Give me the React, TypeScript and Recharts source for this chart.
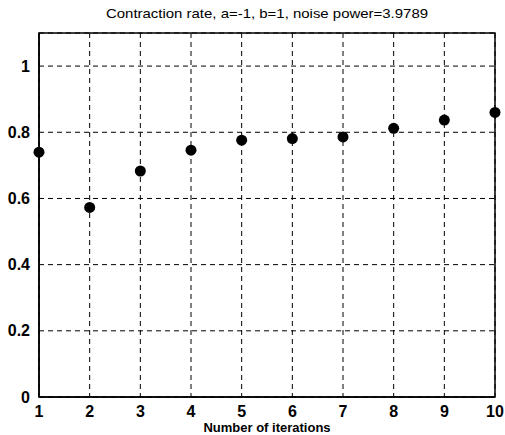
import React from "react";
import {
  ScatterChart,
  Scatter,
  XAxis,
  YAxis,
  CartesianGrid,
  ReferenceArea,
} from "recharts";

// Contraction rate per iteration
const iterations = [1, 2, 3, 4, 5, 6, 7, 8, 9, 10];
const contractionRate = [0.74, 0.573, 0.683, 0.746, 0.776, 0.781, 0.786, 0.812, 0.837, 0.86];
const xTicks = [1, 2, 3, 4, 5, 6, 7, 8, 9, 10];
const yTicks = [0, 0.2, 0.4, 0.6, 0.8, 1];

const data = iterations.map((x, i) => ({ x, y: contractionRate[i] }));

const FONT = "'Liberation Sans', Arial, Helvetica, sans-serif";

const Dot = (props: any) => {
  const { cx, cy } = props;
  return <circle cx={cx} cy={cy} r={5.5} fill="#000" />;
};

export default function App() {
  return (
    <div
      style={{
        position: "absolute",
        left: 0,
        top: 0,
        width: 505,
        height: 435,
        background: "#fff",
        fontFamily: FONT,
      }}
    >
      <div
        style={{
          position: "absolute",
          left: 39,
          width: 456,
          top: 6,
          textAlign: "center",
          fontSize: 13,
          lineHeight: "15px",
          color: "#000",
          transform: "scaleX(1.15)",
          transformOrigin: "center top",
          whiteSpace: "nowrap",
        }}
      >
        Contraction rate, a=-1, b=1, noise power=3.9789
      </div>
      <ScatterChart
        width={505}
        height={435}
        margin={{ top: 33, right: 10, bottom: 0, left: 0 }}
      >
        <CartesianGrid stroke="#000" strokeDasharray="5 4" strokeWidth={1} />
        <XAxis
          type="number"
          dataKey="x"
          domain={[1, 10]}
          ticks={xTicks}
          interval={0}
          height={38}
          axisLine={{ stroke: "#000", strokeWidth: 1.5 }}
          tickLine={false}
          tickMargin={3}
          tick={{ fill: "#000", fontSize: 16, fontWeight: "bold", fontFamily: FONT }}
          label={{
            value: "Number of iterations",
            position: "insideBottom",
            offset: 3,
            fill: "#000",
            fontSize: 13,
            fontWeight: "bold",
            fontFamily: FONT,
          }}
        />
        <YAxis
          type="number"
          dataKey="y"
          domain={[0, 1.1]}
          ticks={yTicks}
          interval={0}
          width={39}
          axisLine={{ stroke: "#000", strokeWidth: 1.5 }}
          tickLine={false}
          tickMargin={3}
          tick={{ fill: "#000", fontSize: 16, fontWeight: "bold", fontFamily: FONT }}
        />
        <ReferenceArea
          x1={1}
          x2={10}
          y1={0}
          y2={1.1}
          fill="none"
          fillOpacity={0}
          stroke="#000"
          strokeWidth={1.5}
          ifOverflow="visible"
        />
        <Scatter data={data} shape={<Dot />} isAnimationActive={false} />
      </ScatterChart>
    </div>
  );
}
